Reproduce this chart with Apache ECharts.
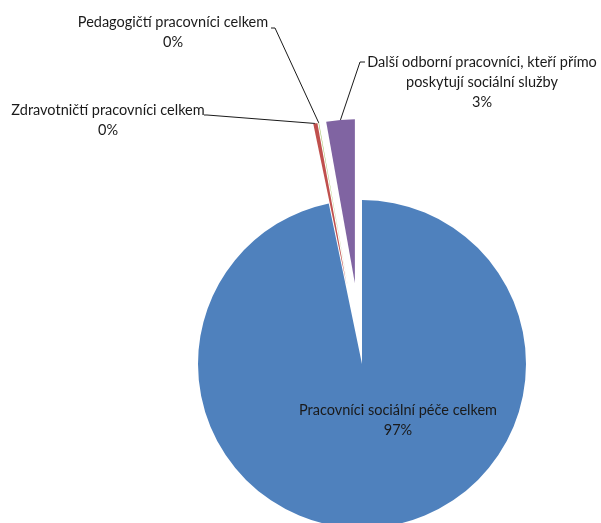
<!DOCTYPE html>
<html>
<head>
<meta charset="utf-8">
<script src="https://cdn.jsdelivr.net/npm/echarts@6/dist/echarts.min.js"></script>
<style>html,body{margin:0;padding:0;background:#fff;}#c{width:601px;height:523px;}</style>
</head>
<body>
<div id="c"></div>
<script>
const categories = [
  'Pracovníci sociální péče celkem',
  'Zdravotničtí pracovníci celkem',
  'Pedagogičtí pracovníci celkem',
  'Další odborní pracovníci, kteří přímo\nposkytují sociální služby'
];
const values = [96.75, 0.4, 0.05, 2.8];
const colors = ['#4F81BD', '#C0504D', '#9BBB59', '#8064A2'];
const exploded = [false, true, true, true];

const CX = 362, CY = 364, R = 164, OFFSET = 81;
const labelPlace = [
  { x: 398, y: 420 },
  { x: 108, y: 120, bend: [207, 115], end: [204, 115] },
  { x: 173, y: 32, bend: [275, 28], end: [271, 28] },
  { x: 482, y: 82, bend: [360, 62], end: [365, 62] }
];

// explosion offset of each slice along its bisector
const total = values.reduce(function (a, b) { return a + b; }, 0);
const shift = [];
(function () {
  let cum = 0;
  for (let i = 0; i < values.length; i++) {
    const mid = 2 * Math.PI * (cum + values[i] / 2) / total;
    cum += values[i];
    shift.push(exploded[i] ? [OFFSET * Math.sin(mid), -OFFSET * Math.cos(mid)] : [0, 0]);
  }
})();

function makeSeries(k) {
  return {
    type: 'pie',
    center: [CX + shift[k][0], CY + shift[k][1]],
    radius: R,
    startAngle: 90,
    clockwise: true,
    avoidLabelOverlap: false,
    silent: true,
    emphasis: { disabled: true },
    label: {
      show: true,
      position: k === 0 ? 'inside' : 'outside',
      fontFamily: 'Lato',
      fontSize: 14.5,
      lineHeight: 20,
      color: '#1a1a1a',
      align: 'center',
      formatter: function (p) { return p.name + '\n' + Math.round(p.percent) + '%'; }
    },
    labelLine: { show: k !== 0, length: 10, length2: 10, lineStyle: { color: '#1a1a1a', width: 1 } },
    labelLayout: function (params) {
      const pl = labelPlace[k];
      const out = { x: pl.x, y: pl.y, align: 'center', verticalAlign: 'middle' };
      if (pl.bend && params.labelLinePoints) {
        out.labelLinePoints = [params.labelLinePoints[0], pl.bend, pl.end];
      }
      return out;
    },
    data: categories.map(function (n, i) {
      const vis = i === k;
      return {
        name: n,
        value: values[i],
        itemStyle: vis ? { color: colors[i], borderWidth: 0 }
                       : { color: 'rgba(0,0,0,0)', borderWidth: 0 },
        label: { show: vis },
        labelLine: { show: vis && k !== 0 }
      };
    })
  };
}

const chart = echarts.init(document.getElementById('c'), null, { renderer: 'canvas' });
chart.setOption({
  animation: false,
  backgroundColor: '#ffffff',
  textStyle: { fontFamily: 'Lato' },
  series: categories.map(function (_, k) { return makeSeries(k); })
});
</script>
</body>
</html>
